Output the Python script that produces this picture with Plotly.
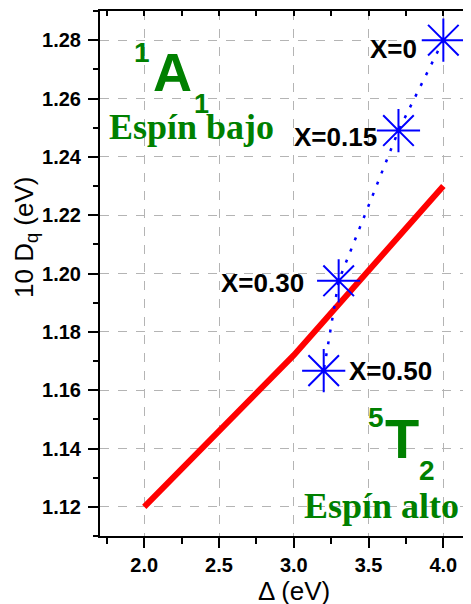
import plotly.graph_objects as go

# Data
red_x = [2.0, 3.0, 4.0]
red_y = [1.120, 1.172, 1.230]

star_x = [4.0, 3.7, 3.3, 3.2]
star_y = [1.280, 1.249, 1.1975, 1.1667]
star_labels = ["X=0", "X=0.15", "X=0.30", "X=0.50"]

x_tickvals = [2.0, 2.5, 3.0, 3.5, 4.0]
y_tickvals = [1.12, 1.14, 1.16, 1.18, 1.20, 1.22, 1.24, 1.26, 1.28]

# page has an 8px body margin; figure sized so it fits the window
OFF = 8
W, H = 463, 596
L, R, T, B = 92, 0, 3, 68
XR = [1.704, 4.185]
YR = [1.11, 1.29]

def px(xp):  # page pixel -> paper
    return (xp - OFF - L) / (W - L - R)

def py(yp):
    return (H - B - (yp - OFF)) / (H - B - T)

fig = go.Figure()

fig.add_trace(go.Scatter(x=red_x, y=red_y, mode="lines",
                         line=dict(color="#ff0000", width=6), showlegend=False,
                         hoverinfo="skip"))
fig.add_trace(go.Scatter(x=star_x, y=star_y, mode="lines+markers",
                         line=dict(color="#0000ff", width=2.5, dash="3px,9px"),
                         marker=dict(symbol="asterisk-open", size=36,
                                     color="#0000ff",
                                     line=dict(color="#0000ff", width=2)),
                         showlegend=False))
# invisible trace for the top axis
fig.add_trace(go.Scatter(x=[XR[0]], y=[YR[0]], xaxis="x2", mode="markers",
                         marker=dict(opacity=0), showlegend=False,
                         hoverinfo="skip"))

tickfont = dict(family="Arial, Liberation Sans", size=20, color="black",
                weight="bold")
titlefont = dict(family="Arial, Liberation Sans", size=26, color="black")

fig.update_layout(
    width=W, height=H,
    margin=dict(l=L, r=R, t=T, b=B),
    plot_bgcolor="white", paper_bgcolor="white",
    xaxis=dict(range=XR, tickvals=x_tickvals, ticktext=[f"{v:.1f}" for v in x_tickvals],
               ticks="outside", ticklen=10, tickwidth=2, tickcolor="black",
               minor=dict(dtick=0.25, tick0=1.75, ticks="outside", ticklen=6,
                          tickwidth=2, tickcolor="black", showgrid=False),
               showline=True, linewidth=2, linecolor="black",
               showgrid=True, gridcolor="#b4b4b4", gridwidth=1, griddash="dash",
               zeroline=False, tickfont=tickfont),
    xaxis2=dict(range=XR, overlaying="x", side="top",
                tickvals=x_tickvals, showticklabels=False,
                ticks="inside", ticklen=5, tickwidth=2, tickcolor="black",
                minor=dict(dtick=0.25, tick0=1.75, ticks="inside", ticklen=5,
                           tickwidth=2, tickcolor="black", showgrid=False),
                showline=True, linewidth=2, linecolor="black",
                showgrid=False, zeroline=False),
    yaxis=dict(range=YR, tickvals=y_tickvals, ticktext=[f"{v:.2f}" for v in y_tickvals],
               ticks="outside", ticklen=10, tickwidth=2, tickcolor="black",
               minor=dict(dtick=0.01, tick0=1.11, ticks="outside", ticklen=5,
                          tickwidth=2, tickcolor="black", showgrid=False),
               showline=True, linewidth=2, linecolor="black",
               showgrid=True, gridcolor="#b4b4b4", gridwidth=1, griddash="dash",
               zeroline=False, tickfont=tickfont, ticklabelstandoff=3),
)

# axis titles (placed as annotations, as in the reference they are off-centre)
fig.add_annotation(x=px(293.5), y=py(591), xref="paper", yref="paper",
                   text="Δ (eV)", showarrow=False, xanchor="center",
                   yanchor="middle", font=titlefont)
fig.add_annotation(x=px(25), y=py(238), xref="paper", yref="paper",
                   text="10 D<sub>q</sub> (eV)", showarrow=False, textangle=-90,
                   xanchor="center", yanchor="middle", font=titlefont)

# point labels
label_shift = [(-24, -9), (-19, -6), (-33, -2), (23, 0)]
anchors = ["right", "right", "right", "left"]
for x, y, t, (dx, dy), a in zip(star_x, star_y, star_labels, label_shift, anchors):
    fig.add_annotation(x=x, y=y, xref="x", yref="y", text=t, showarrow=False,
                       xanchor=a, yanchor="middle", xshift=dx, yshift=dy,
                       font=dict(family="Arial, Liberation Sans", size=26,
                                 color="black", weight="bold"))

green = "#008000"
def gtext(text, xp, yp, size, family="Arial, Liberation Sans"):
    fig.add_annotation(x=px(xp), y=py(yp), xref="paper", yref="paper", text=text,
                       showarrow=False, xanchor="center", yanchor="middle",
                       font=dict(family=family, size=size, color=green,
                                 weight="bold"))

gtext("A", 172.5, 72.5, 54)
gtext("1", 142, 52, 28)
gtext("1", 201, 104, 27)
gtext("Espín bajo", 191.5, 127, 36, "Liberation Serif, Times New Roman")
gtext("T", 402, 438, 56)
gtext("5", 375.5, 417, 28)
gtext("2", 427, 470, 28)
gtext("Espín alto", 381.5, 506, 36, "Liberation Serif, Times New Roman")

fig.write_html("out.html")
